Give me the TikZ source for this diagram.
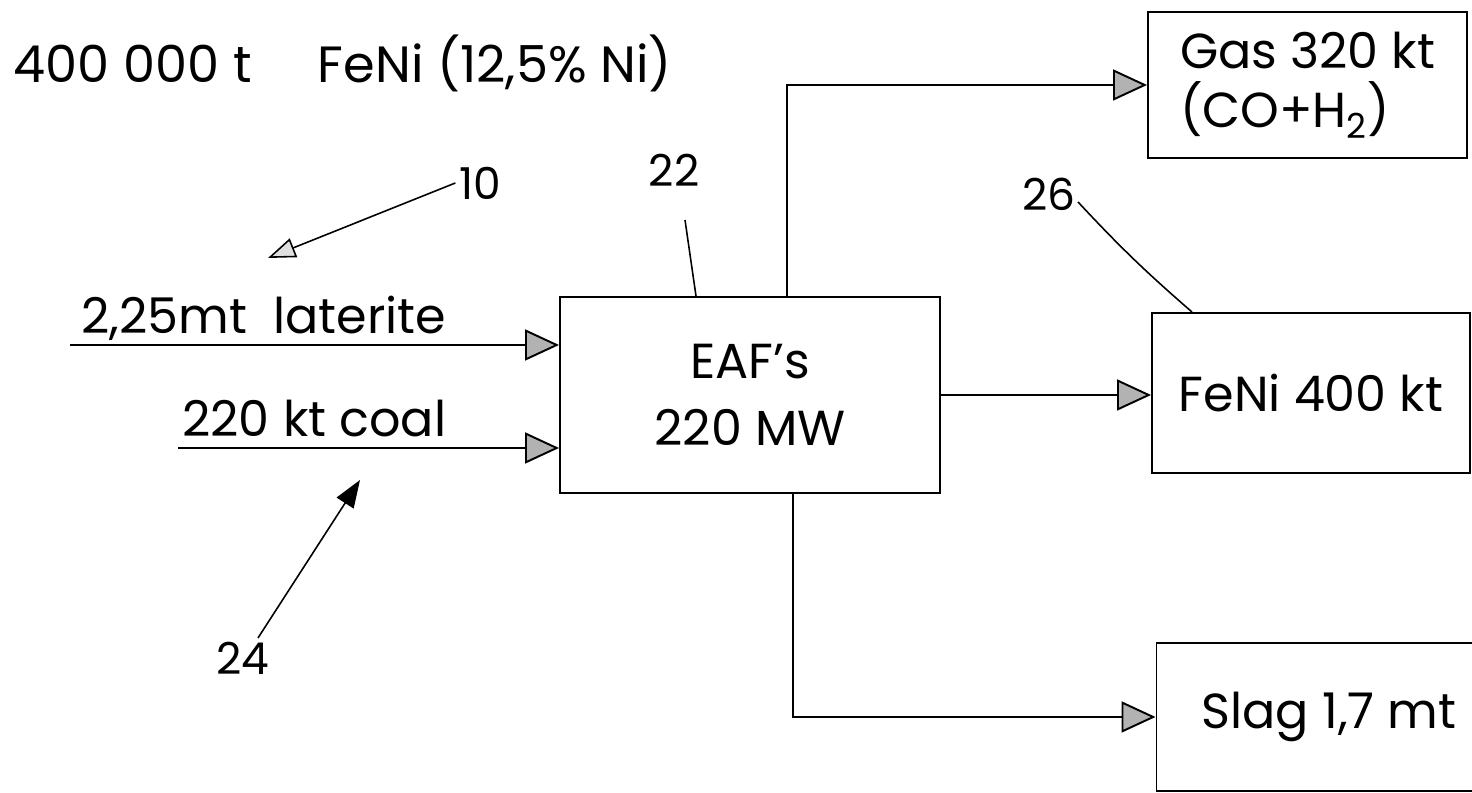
\documentclass[tikz,border=0pt]{standalone}
\usepackage{fontspec}
\setmainfont{Poppins}
\usetikzlibrary{arrows.meta, positioning, calc}
\tikzstyle{box} = [rectangle, draw=black, line width=1.1pt, font=\fontsize{28}{34}\selectfont, inner sep=0pt]
\tikzstyle{lbl} = [font=\fontsize{28}{34}\selectfont, inner sep=2pt]
\tikzstyle{num} = [font=\fontsize{25}{28}\selectfont, inner sep=2pt]
\tikzstyle{flow} = [line width=1.1pt, -{Triangle[length=0.68cm, width=0.62cm, fill=gray!60]}]
\tikzstyle{lead} = [line width=0.9pt]

\begin{document}
\begin{tikzpicture}

    \useasboundingbox (0,0) rectangle (29.44,15.86);

    \node (title) at (0.2,14.6) [lbl, anchor=west, font=\fontsize{29}{34}\selectfont] {400 000 t\hspace{1.3em}FeNi (12,5\% Ni)};

    % Furnace
    \node (eaf) at (15.0,7.96) [box, minimum width=7.6cm, minimum height=3.92cm, align=center] {EAF's\\[4pt]220 MW};

    % Products
    \node (gas) at (26.15,14.16) [box, minimum width=6.38cm, minimum height=2.92cm, align=left] {Gas 320 kt\\(CO+H\textsubscript{2})};
    \node (feni) at (26.22,8.0) [box, minimum width=6.36cm, minimum height=3.2cm] {FeNi 400 kt};
    \node (slag) at (26.58,1.52) [box, minimum width=6.9cm, minimum height=2.96cm] {Slag 1,7 mt};

    % Feed
    \node (lat) at (9.0,9.18) [lbl, anchor=base east] {2,25mt\ \ laterite};
    \node (coal) at (9.0,7.12) [lbl, anchor=base east] {220 kt coal};
    \coordinate (latin) at (1.4,8.96);
    \coordinate (coalin) at (3.56,6.9);
    \draw[flow] (latin) -- (latin -| eaf.west);
    \draw[flow] (coalin) -- (coalin -| eaf.west);

    % Outlets
    \draw[flow] ([xshift=0.74cm]eaf.north) |- (gas.west);
    \draw[flow] (eaf.east) -- (eaf.east -| feni.west);
    \draw[flow] ([xshift=0.86cm]eaf.south) |- (slag.west);

    % Reference numbers
    \node (n10) at (9.6,12.2) [num] {10};
    \coordinate (tip10) at (5.36,10.7);
    \draw[lead, -{Triangle[length=0.55cm, width=0.4cm, fill=gray!25]}] (n10.west) -- (tip10);

    \node (n22) at (13.48,12.46) [num] {22};
    \coordinate (c22) at (13.7,11.46);
    \draw[lead] (c22) -- ([xshift=-1.08cm]eaf.north);

    \node (n26) at (20.98,11.98) [num] {26};
    \coordinate (c26) at (21.56,11.82);
    \draw[lead] (c26) to[bend right=3] ([xshift=-2.38cm]feni.north);

    \node (n24) at (4.86,2.7) [num] {24};
    \coordinate (tip24) at (7.2,6.26);
    \draw[lead, -{Triangle[length=0.55cm, width=0.4cm, fill=black]}] ([xshift=0.3cm]n24.north) -- (tip24);

\end{tikzpicture}
\end{document}
